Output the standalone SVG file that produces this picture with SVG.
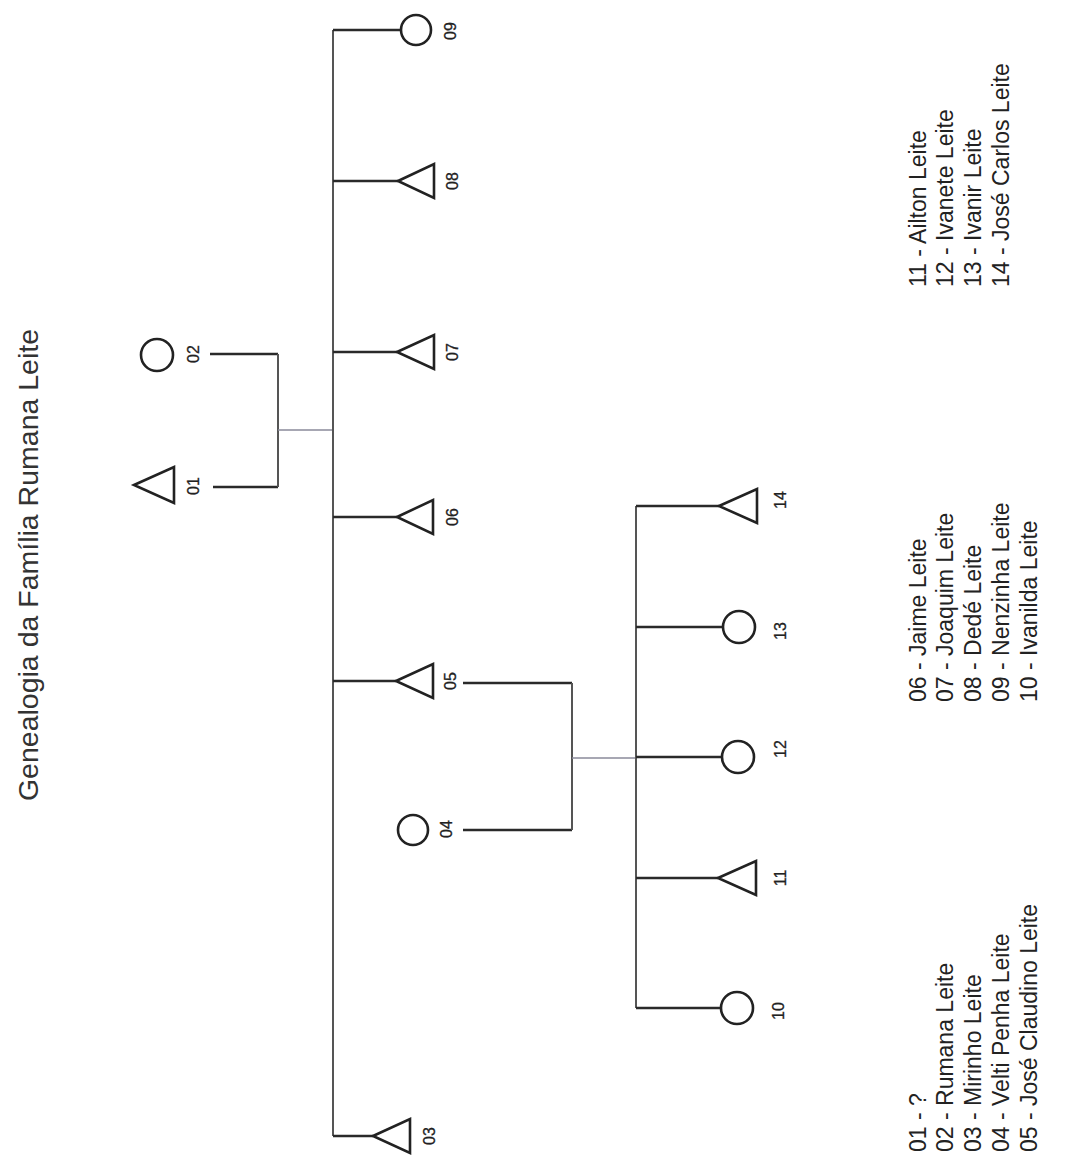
<svg xmlns="http://www.w3.org/2000/svg" width="1070" height="1158" viewBox="0 0 1070 1158">
<style>
.sym{fill:none;stroke:#222;stroke-width:2.6}
.ln{fill:none;stroke:#2a2a2a;stroke-width:2.6}
.vl{fill:none;stroke:#555;stroke-width:2}
.mar{fill:none;stroke:#8a8a9a;stroke-width:1.6}
.lbl{font-family:"Liberation Sans",Arial,sans-serif;font-size:16px;fill:#222;stroke:#222;stroke-width:0.3;text-anchor:middle;dominant-baseline:central}
.leg{font-family:"Liberation Sans",Arial,sans-serif;font-size:23px;fill:#222}
.title{font-family:"Liberation Sans",Arial,sans-serif;font-size:28.5px;fill:#333;text-anchor:middle}
</style>
<rect width="1070" height="1158" fill="#fff"/>
<text class="title" transform="translate(38,565) rotate(-90)">Genealogia da Família Rumana Leite</text>
<g id="connectors">
<path class="ln" d="M213,487 H278 M210,354 H278"/>
<path class="vl" d="M278,354 V487"/>
<path class="mar" d="M278,430 H333"/>
<path class="vl" d="M333,30 V1136"/>
<path class="ln" d="M333,30 H401 M333,181 H398 M333,352 H397 M333,517 H397 M333,681 H396 M333,1136 H373"/>
<path class="ln" d="M463,683 H572 M463,830 H572"/>
<path class="vl" d="M572,683 V830"/>
<path class="mar" d="M572,758 H636"/>
<path class="vl" d="M636,506 V1008"/>
<path class="ln" d="M636,506 H719 M636,627 H723 M636,757 H722 M636,878 H718 M636,1008 H721"/>
</g>
<g id="n01"><polygon class="sym" points="134,485 174,467 174,503"/><text class="lbl" transform="translate(193,486) rotate(-90)">01</text></g>
<g id="n02"><circle class="sym" cx="157" cy="355" r="16"/><text class="lbl" transform="translate(193,354) rotate(-90)">02</text></g>
<g id="n03"><polygon class="sym" points="373,1136 410,1119 410,1153"/><text class="lbl" transform="translate(429,1136) rotate(-90)">03</text></g>
<g id="n04"><circle class="sym" cx="413" cy="830" r="15"/><text class="lbl" transform="translate(446,829) rotate(-90)">04</text></g>
<g id="n05"><polygon class="sym" points="396,681 433,664 433,698"/><text class="lbl" transform="translate(450,681) rotate(-90)">05</text></g>
<g id="n06"><polygon class="sym" points="397,517 433,500 433,534"/><text class="lbl" transform="translate(452,517) rotate(-90)">06</text></g>
<g id="n07"><polygon class="sym" points="397,352 434,335 434,369"/><text class="lbl" transform="translate(452,352) rotate(-90)">07</text></g>
<g id="n08"><polygon class="sym" points="398,181 434,164 434,198"/><text class="lbl" transform="translate(452,181) rotate(-90)">08</text></g>
<g id="n09"><circle class="sym" cx="416" cy="30" r="15"/><text class="lbl" transform="translate(450,31) rotate(-90)">09</text></g>
<g id="n10"><circle class="sym" cx="737" cy="1008" r="16"/><text class="lbl" transform="translate(778,1011) rotate(-90)">10</text></g>
<g id="n11"><polygon class="sym" points="718,878 756,861 756,895"/><text class="lbl" transform="translate(780,878) rotate(-90)">11</text></g>
<g id="n12"><circle class="sym" cx="738" cy="757" r="16"/><text class="lbl" transform="translate(780,749) rotate(-90)">12</text></g>
<g id="n13"><circle class="sym" cx="739" cy="627" r="16"/><text class="lbl" transform="translate(780,631) rotate(-90)">13</text></g>
<g id="n14"><polygon class="sym" points="719,506 757,489 757,523"/><text class="lbl" transform="translate(780,500) rotate(-90)">14</text></g>
<g id="legend">
<text class="leg" transform="translate(926,1152) rotate(-90)">01 - ?</text>
<text class="leg" transform="translate(953,1152) rotate(-90)">02 - Rumana Leite</text>
<text class="leg" transform="translate(981,1152) rotate(-90)">03 - Mirinho Leite</text>
<text class="leg" transform="translate(1009,1152) rotate(-90)">04 - Velti Penha Leite</text>
<text class="leg" transform="translate(1037,1152) rotate(-90)">05 - José Claudino Leite</text>
<text class="leg" transform="translate(926,702) rotate(-90)">06 - Jaime Leite</text>
<text class="leg" transform="translate(953,702) rotate(-90)">07 - Joaquim Leite</text>
<text class="leg" transform="translate(981,702) rotate(-90)">08 - Dedé Leite</text>
<text class="leg" transform="translate(1009,702) rotate(-90)">09 - Nenzinha Leite</text>
<text class="leg" transform="translate(1037,702) rotate(-90)">10 - Ivanilda Leite</text>
<text class="leg" transform="translate(926,287) rotate(-90)">11 - Ailton Leite</text>
<text class="leg" transform="translate(953,287) rotate(-90)">12 - Ivanete Leite</text>
<text class="leg" transform="translate(981,287) rotate(-90)">13 - Ivanir Leite</text>
<text class="leg" transform="translate(1009,287) rotate(-90)">14 - José Carlos Leite</text>
</g>
</svg>
